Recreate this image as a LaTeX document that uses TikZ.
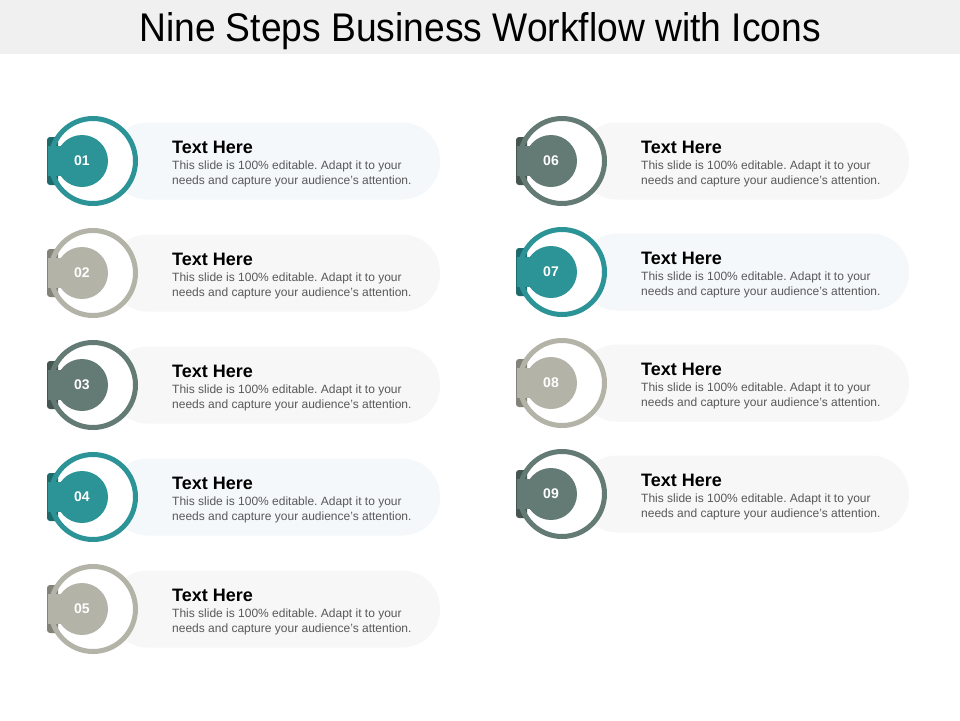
\documentclass[tikz,border=0pt]{standalone}
\usepackage{fontspec}
\setmainfont{Liberation Sans}
\frenchspacing
\definecolor{tealc}{HTML}{2C9396}
\definecolor{tealdk}{HTML}{1E6B6E}
\definecolor{greyc}{HTML}{B4B3A8}
\definecolor{greydk}{HTML}{84837A}
\definecolor{slatec}{HTML}{647A74}
\definecolor{slatedk}{HTML}{44564F}
\definecolor{tealbg}{HTML}{F4F8FA}
\definecolor{greybg}{HTML}{F7F7F7}
\definecolor{titlebg}{HTML}{F0F0F0}
\definecolor{bodygrey}{HTML}{595959}
\tikzset{
  titletxt/.style={font=\fontsize{40}{46}\selectfont, text=black, xscale=0.93},
  numdisc/.style={circle, minimum size=52pt, inner sep=0pt, text=white,
    font=\fontsize{14}{16}\selectfont\bfseries},
  headtxt/.style={anchor=west, inner sep=0pt, font=\fontsize{18}{20}\selectfont\bfseries},
  bodytxt/.style={anchor=west, inner sep=0pt, align=left, text=bodygrey,
    font=\fontsize{12}{15}\selectfont},
}
\begin{document}
\begin{tikzpicture}[x=1pt, y=-1pt]
  \useasboundingbox (0,0) rectangle (960,720);
  \fill[white] (0,0) rectangle (960,720);
  %
  \fill[titlebg] (0,0) rectangle (960,54); % title bar
  \node[titletxt] (title) at (480,31) {Nine Steps Business Workflow with Icons};
  %
  \foreach \dx/\cy/\num/\col/\dk/\bg in {
      0/161/01/tealc/tealdk/tealbg,   0/273/02/greyc/greydk/greybg,
      0/385/03/slatec/slatedk/greybg, 0/497/04/tealc/tealdk/tealbg,
      0/609/05/greyc/greydk/greybg,
      469/161/06/slatec/slatedk/greybg, 469/272/07/tealc/tealdk/tealbg,
      469/383/08/greyc/greydk/greybg,   469/494/09/slatec/slatedk/greybg}{
    \fill[\bg, rounded corners=38pt] (\dx+110,\cy-38.5) rectangle (\dx+440,\cy+38.5); % pill
    \fill[white] (\dx+93,\cy) circle (45pt);
    \fill[\dk, rounded corners=3pt] (\dx+47,\cy-24) rectangle (\dx+58,\cy+24); % tabs
    \draw[\col, line width=5pt] (\dx+93,\cy) circle (42.5pt);                 % ring
    \fill[\col] (\dx+48,\cy-15) rectangle (\dx+82,\cy+15);
    \node[numdisc, fill=\col] (n\num) at (\dx+82,\cy) {\num};
    %
    \node[headtxt] (h\num) at (\dx+172,\cy-14) {Text Here};
    \node[bodytxt] (b\num) at (\dx+172,\cy+12.5)
      {This slide is 100\% editable. Adapt it to your\\needs and capture your audience's attention.};
  }
\end{tikzpicture}
\end{document}
